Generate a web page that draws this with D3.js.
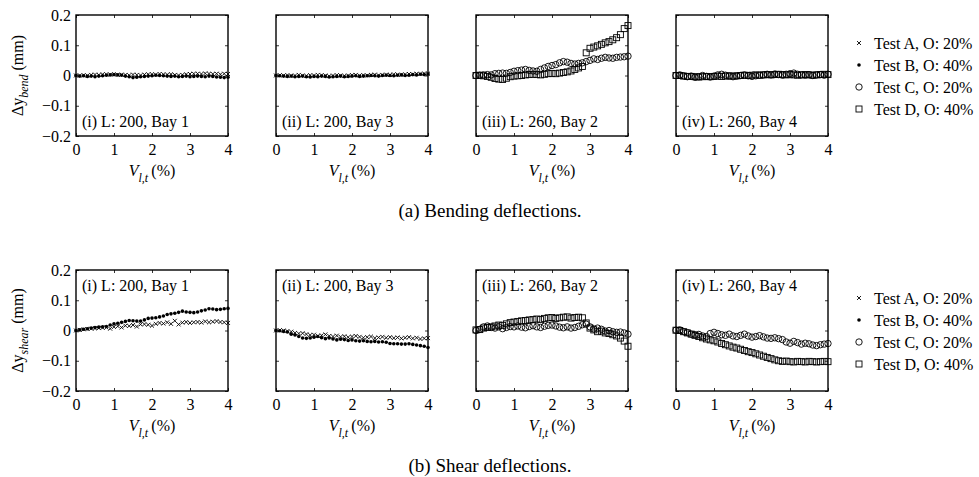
<!DOCTYPE html>
<html>
<head>
<meta charset="utf-8">
<script src="https://cdn.jsdelivr.net/npm/d3@7"></script>
<style>
  body { margin: 0; background: #fff; }
  text { font-family: "Liberation Serif", "Times New Roman", serif; fill: #000; }
</style>
</head>
<body>
<svg id="chart" width="979" height="477"></svg>
<script>
// drift ratio V_l,t (%)
var xs = [0,0.1,0.2,0.3,0.4,0.5,0.6,0.7,0.8,0.9,1,1.1,1.2,1.3,1.4,1.5,1.6,1.7,1.8,1.9,2,
          2.1,2.2,2.3,2.4,2.5,2.6,2.7,2.8,2.9,3,3.1,3.2,3.3,3.4,3.5,3.6,3.7,3.8,3.9,4];

var xTicks = [0, 1, 2, 3, 4];
var yTicks = [-0.2, -0.1, 0, 0.1, 0.2];

var panelLabels = ['(i) L: 200, Bay 1', '(ii) L: 200, Bay 3', '(iii) L: 260, Bay 2', '(iv) L: 260, Bay 4'];
var legendLabels = ['Test A, O: 20%', 'Test B, O: 40%', 'Test C, O: 20%', 'Test D, O: 40%'];

// bending deflections (mm)
var bendI_A = [0,0,0.001,0,0.002,0.003,0.002,0.004,0.004,0.003,0.004,0.002,0.003,0.002,0.001,0.003,0.002,0.001,0.003,0.004,0.004,
               0.003,0.005,0.004,0.003,0.004,0.002,0.001,0.002,0.004,0.005,0.006,0.006,0.005,0.007,0.006,0.005,0.006,0.004,0.006,0.005];
var bendI_B = [0,-0.002,-0.001,-0.003,-0.002,-0.004,-0.002,-0.001,0.001,0.002,0.003,0.002,0.001,-0.002,-0.004,-0.007,-0.006,-0.004,-0.003,-0.002,-0.001,
               0.001,0,-0.001,-0.002,-0.003,-0.002,-0.004,-0.003,-0.002,-0.004,-0.003,-0.002,-0.003,-0.004,-0.002,-0.003,-0.005,-0.006,-0.007,-0.006];
var bendII_A = [0,0.001,0,0.001,-0.001,0,0.002,0,-0.001,0.001,0,0.002,0.001,0,-0.002,0,0.001,0,-0.001,0,0.001,
                0.002,0,0.001,0,0.002,0.003,0.001,0.002,0.003,0.002,0.004,0.003,0.002,0.004,0.005,0.004,0.006,0.005,0.007,0.006];
var bendII_B = [0,-0.001,-0.002,-0.003,-0.002,-0.004,-0.003,-0.002,-0.004,-0.005,-0.003,-0.004,-0.002,-0.003,-0.005,-0.004,-0.003,-0.002,-0.004,-0.003,-0.002,
                -0.001,-0.003,-0.002,-0.001,0,-0.001,-0.002,0,0.001,0,-0.001,0.001,0.002,0,0.001,0.003,0.002,0.004,0.003,0.005];
var bendIII_C = [0,0.001,0.002,0.003,0.002,0.006,0.007,0.008,0.007,0.01,0.014,0.016,0.018,0.02,0.017,0.015,0.014,0.02,0.025,0.03,0.033,
                 0.036,0.042,0.046,0.044,0.04,0.038,0.04,0.042,0.046,0.05,0.055,0.053,0.057,0.06,0.058,0.057,0.06,0.061,0.062,0.064];
var bendIII_D = [0,0.001,-0.001,-0.003,-0.006,-0.01,-0.012,-0.013,-0.009,-0.004,-0.002,-0.001,0,0.002,0.003,0.004,0.003,0.002,0.004,0.006,0.007,
                 0.006,0.008,0.01,0.012,0.015,0.02,0.025,0.03,0.075,0.09,0.094,0.098,0.103,0.108,0.112,0.118,0.125,0.135,0.155,0.165];
var bendIV_C = [0,0.002,-0.001,-0.004,-0.002,-0.006,-0.004,0,-0.003,-0.005,-0.002,0.002,0.004,0.001,-0.002,-0.004,-0.002,0,0.002,-0.001,-0.003,
                -0.001,0.001,0.002,0.004,0.002,0.005,0.003,0.001,0.004,0.006,0.008,0.004,0.002,0.001,0.003,0,0.002,0.003,0.001,0.004];
var bendIV_D = [0,0,-0.002,-0.003,-0.003,-0.004,-0.005,-0.004,-0.003,-0.004,-0.003,-0.002,-0.003,-0.002,-0.001,-0.002,-0.001,0,0.001,0,0.001,
                0.002,0.001,0.002,0.003,0.002,0.003,0.004,0.003,0.002,0.003,0.002,0.001,0.002,0.003,0.002,0.001,0.002,0.003,0.004,0.003];

// shear deflections (mm)
var shearI_A = [0,0.002,0.004,0.005,0.006,0.007,0.008,0.009,0.01,0.006,0.012,0.014,0.01,0.016,0.015,0.018,0.013,0.02,0.021,0.019,0.016,
                0.022,0.025,0.023,0.027,0.022,0.032,0.02,0.026,0.028,0.025,0.027,0.028,0.026,0.03,0.027,0.029,0.031,0.028,0.027,0.025];
var shearI_B = [0,0.002,0.004,0.006,0.008,0.01,0.011,0.012,0.013,0.018,0.022,0.024,0.027,0.03,0.033,0.032,0.031,0.031,0.035,0.04,0.041,
                0.042,0.045,0.048,0.053,0.055,0.057,0.06,0.064,0.061,0.06,0.059,0.061,0.065,0.068,0.072,0.071,0.069,0.07,0.072,0.073];
var shearII_A = [0,0.001,0,-0.002,-0.004,-0.008,-0.01,-0.009,-0.012,-0.015,-0.014,-0.018,-0.016,-0.013,-0.018,-0.02,-0.017,-0.021,-0.019,-0.022,-0.02,
                 -0.018,-0.021,-0.024,-0.022,-0.02,-0.025,-0.023,-0.021,-0.024,-0.022,-0.025,-0.023,-0.026,-0.024,-0.022,-0.026,-0.024,-0.028,-0.026,-0.025];
var shearII_B = [0,-0.001,-0.003,-0.005,-0.012,-0.015,-0.02,-0.025,-0.026,-0.025,-0.022,-0.02,-0.024,-0.027,-0.025,-0.028,-0.031,-0.029,-0.03,-0.033,-0.031,
                 -0.034,-0.035,-0.034,-0.036,-0.037,-0.036,-0.038,-0.037,-0.039,-0.043,-0.044,-0.044,-0.045,-0.045,-0.044,-0.046,-0.048,-0.05,-0.052,-0.056];
var shearIII_C = [0,0.004,0.012,0.015,0.01,0.008,0.012,0.006,0.01,0.013,0.012,0.015,0.011,0.009,0.013,0.016,0.012,0.01,0.014,0.017,0.018,
                  0.015,0.011,0.009,0.012,0.008,0.01,0.014,0.019,0.021,0.012,0.005,0.008,0.004,-0.002,0,-0.004,-0.006,-0.005,-0.008,-0.012];
var shearIII_D = [0.002,0.003,0.008,0.01,0.012,0.015,0.018,0.017,0.022,0.026,0.028,0.03,0.032,0.033,0.035,0.036,0.038,0.036,0.04,0.042,0.043,
                  0.04,0.042,0.044,0.045,0.041,0.043,0.044,0.042,0.025,0.008,0.002,-0.004,-0.002,-0.008,-0.01,-0.014,-0.018,-0.025,-0.035,-0.052];
var shearIV_C = [0.001,0.002,-0.004,-0.007,-0.012,-0.014,-0.013,-0.018,-0.02,-0.01,-0.006,-0.01,-0.014,-0.016,-0.012,-0.018,-0.02,-0.016,-0.012,-0.018,-0.022,
                 -0.02,-0.017,-0.021,-0.025,-0.026,-0.024,-0.027,-0.03,-0.038,-0.042,-0.036,-0.04,-0.045,-0.042,-0.044,-0.048,-0.05,-0.047,-0.045,-0.043];
var shearIV_D = [0.001,0,-0.004,-0.008,-0.012,-0.016,-0.02,-0.024,-0.028,-0.031,-0.034,-0.038,-0.043,-0.047,-0.051,-0.055,-0.058,-0.062,-0.066,-0.07,-0.073,
                 -0.077,-0.081,-0.085,-0.089,-0.093,-0.097,-0.1,-0.102,-0.101,-0.103,-0.104,-0.102,-0.103,-0.104,-0.102,-0.103,-0.104,-0.103,-0.102,-0.103];

var rows = [
  { sub: 'bend', top: 15, caption: '(a) Bending deflections.', labelAtTop: false,
    panels: [[['A', bendI_A], ['B', bendI_B]], [['A', bendII_A], ['B', bendII_B]],
             [['C', bendIII_C], ['D', bendIII_D]], [['C', bendIV_C], ['D', bendIV_D]]] },
  { sub: 'shear', top: 270, caption: '(b) Shear deflections.', labelAtTop: true,
    panels: [[['A', shearI_A], ['B', shearI_B]], [['A', shearII_A], ['B', shearII_B]],
             [['C', shearIII_C], ['D', shearIII_D]], [['C', shearIV_C], ['D', shearIV_D]]] }
];

var panelLefts = [76, 276, 476, 676];
var pw = 152, ph = 121;

var x = d3.scaleLinear().domain([0, 4]).range([0, pw]);
var y = d3.scaleLinear().domain([-0.2, 0.2]).range([ph, 0]);
var fmt = d3.format('');

var svg = d3.select('#chart');

function drawMarker(sel, kind) {
  if (kind === 'A') {
    sel.append('path').attr('d', d3.symbol(d3.symbolTimes, 12)())
      .attr('fill', 'none').attr('stroke', '#000').attr('stroke-width', 0.9);
  } else if (kind === 'B') {
    sel.append('circle').attr('r', 1.8).attr('fill', '#000');
  } else if (kind === 'C') {
    sel.append('circle').attr('r', 3.2).attr('fill', 'none')
      .attr('stroke', '#000').attr('stroke-width', 0.9);
  } else {
    sel.append('rect').attr('x', -3).attr('y', -3).attr('width', 6).attr('height', 6)
      .attr('fill', 'none').attr('stroke', '#000').attr('stroke-width', 0.9);
  }
}

rows.forEach(function(row) {
  row.panels.forEach(function(series, i) {
    var g = svg.append('g')
      .attr('transform', 'translate(' + panelLefts[i] + ',' + row.top + ')');

    // inward ticks on all four sides
    g.append('g').attr('transform', 'translate(0,' + ph + ')')
      .call(d3.axisBottom(x).tickValues(xTicks).tickSize(-3).tickPadding(8).tickFormat(fmt));
    g.append('g').call(d3.axisTop(x).tickValues(xTicks).tickSize(-3).tickFormat(''));
    g.append('g')
      .call(d3.axisLeft(y).tickValues(yTicks).tickSize(-3).tickPadding(5)
        .tickFormat(i === 0 ? fmt : ''));
    g.append('g').attr('transform', 'translate(' + pw + ',0)')
      .call(d3.axisRight(y).tickValues(yTicks).tickSize(-3).tickFormat(''));
    g.selectAll('.domain').remove();
    g.selectAll('.tick line').attr('stroke', '#000').attr('stroke-width', 0.8);
    g.selectAll('.tick text').style('font-size', '16px').style('font-family', '"Liberation Serif", serif');

    g.append('rect').attr('width', pw).attr('height', ph)
      .attr('fill', 'none').attr('stroke', '#000').attr('stroke-width', 1.4);

    // data markers
    series.forEach(function(s) {
      g.append('g').selectAll('g')
        .data(s[1])
        .enter().append('g')
          .attr('transform', function(d, k) { return 'translate(' + x(xs[k]) + ',' + y(d) + ')'; })
          .each(function() { drawMarker(d3.select(this), s[0]); });
    });

    // panel label
    g.append('text')
      .attr('x', 6)
      .attr('y', row.labelAtTop ? 21 : ph - 9)
      .style('font-size', '16px')
      .text(panelLabels[i]);

    // x axis label
    var xl = g.append('text')
      .attr('x', pw / 2).attr('y', ph + 40)
      .attr('text-anchor', 'middle')
      .style('font-size', '16px');
    xl.append('tspan').style('font-style', 'italic').text('V');
    xl.append('tspan').style('font-style', 'italic').style('font-size', '12px')
      .attr('dy', 6).text('l,t');
    xl.append('tspan').attr('dy', -6).text('\u2009(%)');

    if (i === 0) {
      var yl = svg.append('text')
        .attr('transform', 'translate(23,' + (row.top + ph / 2) + ') rotate(-90)')
        .attr('text-anchor', 'middle')
        .style('font-size', '16px');
      yl.append('tspan').text('\u0394y');
      yl.append('tspan').style('font-style', 'italic').style('font-size', '12px')
        .attr('dy', 5).text(row.sub);
      yl.append('tspan').attr('dy', -5).text(' (mm)');
    }
  });

  // legend
  var lg = svg.append('g').attr('transform', 'translate(859,' + (row.top + 28) + ')');
  ['A', 'B', 'C', 'D'].forEach(function(k, j) {
    var item = lg.append('g').attr('transform', 'translate(0,' + (j * 22) + ')');
    drawMarker(item, k);
    item.append('text').attr('x', 15).attr('dy', '0.35em')
      .style('font-size', '16px').text(legendLabels[j]);
  });

  // caption
  svg.append('text')
    .attr('x', 490).attr('y', row.top + ph + 81)
    .attr('text-anchor', 'middle')
    .style('font-size', '19px')
    .text(row.caption);
});
</script>
</body>
</html>
